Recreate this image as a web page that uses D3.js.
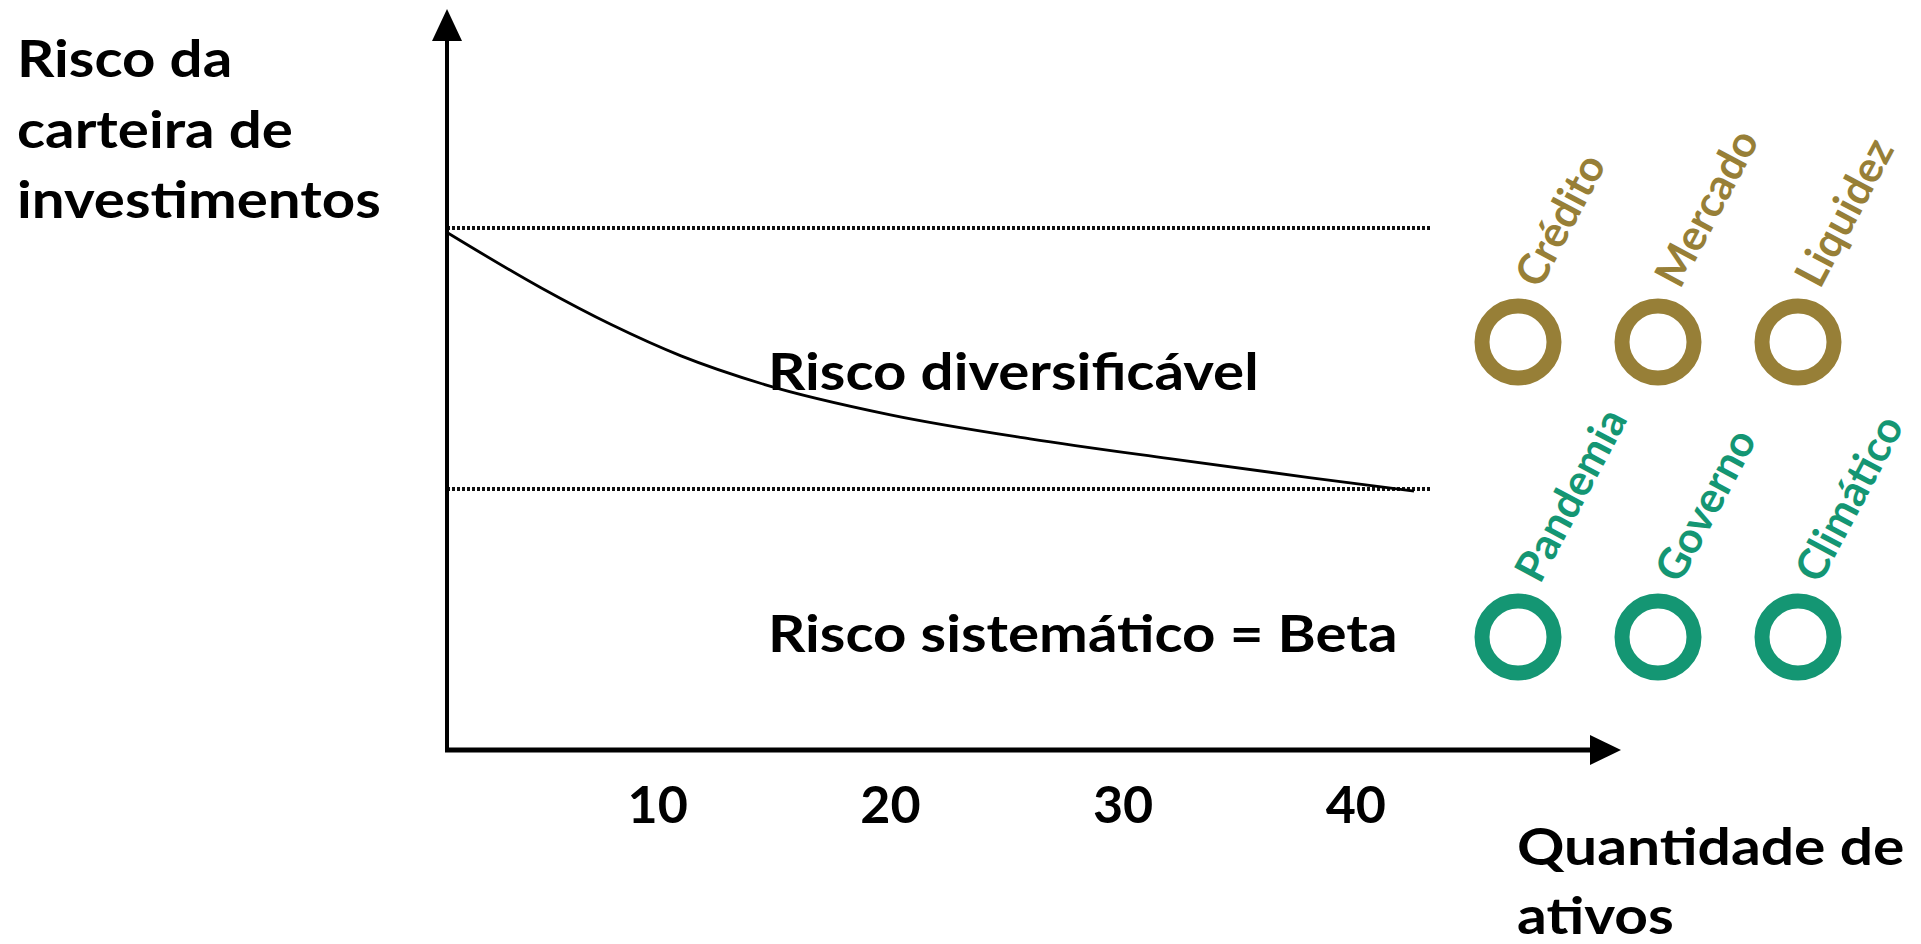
<!DOCTYPE html>
<html>
<head>
<meta charset="utf-8">
<script src="https://cdn.jsdelivr.net/npm/d3@7"></script>
<style>
    body { margin: 0; background: #fff; }
    text { font-family: Lato, "Noto Sans", sans-serif; font-weight: 700; }
</style>
</head>
<body>
<div id="svg"></div>
<script>
// curva do risco total da carteira
const ativos = [1, 5, 8, 11, 14.6, 20, 26, 32, 38, 42.5];
const risco = [99, 88.5, 81.5, 75.5, 70, 64.2, 59.6, 55.8, 52.2, 49.6];
const ticks_x = [10, 20, 30, 40];
const niveis = [100, 50];   // risco total inicial, risco sistematico
const titulo_y = ["Risco da", "carteira de", "investimentos"];
const titulo_x = ["Quantidade de", "ativos"];
const riscos_diversificaveis = ["Crédito", "Mercado", "Liquidez"];
const riscos_sistematicos = ["Pandemia", "Governo", "Climático"];

const width = 1921;
const height = 944;
const gold = "#977f37";
const green = "#149673";

const svg = d3.select('#svg')
    .append('svg')
    .attr("width", width)
    .attr("height", height);

var x = d3.scaleLinear()
    .domain([0, 10])
    .range([425, 657.7]);

var y = d3.scaleLinear()
    .domain([0, 100])
    .range([750, 228]);

// texto preto um pouco mais largo (fonte original mais larga)
function alarga(sel, f) {
    sel.each(function () {
        const w = this.getComputedTextLength();
        d3.select(this).attr("textLength", w * f).attr("lengthAdjust", "spacingAndGlyphs");
    });
}

// linhas pontilhadas
svg.selectAll(".nivel")
    .data(niveis)
    .enter()
    .append("line")
    .attr("class", "nivel")
    .attr("x1", 447)
    .attr("x2", 1431)
    .attr("y1", d => y(d))
    .attr("y2", d => y(d))
    .attr("stroke", "#111")
    .attr("stroke-width", 4)
    .attr("stroke-dasharray", "3,2");

// curva
const pts = ativos.map((a, i) => [a, risco[i]]);
svg.append("path")
    .datum(pts)
    .attr("fill", "none")
    .attr("stroke", "#000")
    .attr("stroke-width", 2.8)
    .attr("d", d3.line().x(d => x(d[0])).y(d => y(d[1])).curve(d3.curveMonotoneX));

// eixos com setas
svg.append("line")
    .attr("x1", 447).attr("x2", 447)
    .attr("y1", 752).attr("y2", 38)
    .attr("stroke", "#000").attr("stroke-width", 4);
svg.append("path")
    .attr("d", "M447,9 L432,41 L462,41 Z")
    .attr("fill", "#000");
svg.append("line")
    .attr("x1", 445).attr("x2", 1592)
    .attr("y1", 750).attr("y2", 750)
    .attr("stroke", "#000").attr("stroke-width", 5);
svg.append("path")
    .attr("d", "M1621,750 L1590,735 L1590,765 Z")
    .attr("fill", "#000");

svg.selectAll(".tick")
    .data(ticks_x)
    .enter()
    .append("text")
    .attr("class", "tick")
    .attr("x", d => x(d))
    .attr("y", 823)
    .attr("text-anchor", "middle")
    .attr("font-size", 52)
    .text(d => d);

// titulos
svg.selectAll(".ty")
    .data(titulo_y)
    .enter()
    .append("text")
    .attr("class", "ty")
    .attr("x", 17)
    .attr("y", (d, i) => 77 + i * 70.5)
    .attr("font-size", 52)
    .text(d => d)
    .call(alarga, 1.12);

svg.selectAll(".tx")
    .data(titulo_x)
    .enter()
    .append("text")
    .attr("class", "tx")
    .attr("x", 1517)
    .attr("y", (d, i) => 865 + i * 69)
    .attr("font-size", 52)
    .text(d => d)
    .call(alarga, 1.13);

svg.append("text")
    .attr("x", 768).attr("y", 390)
    .attr("font-size", 52)
    .text("Risco diversificável")
    .call(alarga, 1.12);
svg.append("text")
    .attr("x", 768).attr("y", 652)
    .attr("font-size", 52)
    .text("Risco sistemático = Beta")
    .call(alarga, 1.12);

// circulos dos riscos
var cx = d3.scalePoint()
    .domain([0, 1, 2])
    .range([1518, 1798]);

function grupo(nomes, cy, cor) {
    svg.append("g").selectAll("circle")
        .data(nomes)
        .enter()
        .append("circle")
        .attr("cx", (d, i) => cx(i))
        .attr("cy", cy)
        .attr("r", 36)
        .attr("fill", "none")
        .attr("stroke", cor)
        .attr("stroke-width", 15);
    svg.append("g").selectAll("text")
        .data(nomes)
        .enter()
        .append("text")
        .attr("transform", (d, i) => "translate(" + (cx(i) + 22) + "," + (cy - 52) + ") rotate(-62)")
        .attr("font-size", 43)
        .attr("fill", cor)
        .text(d => d);
}
grupo(riscos_diversificaveis, 342, gold);
grupo(riscos_sistematicos, 637, green);
</script>
</body>
</html>
